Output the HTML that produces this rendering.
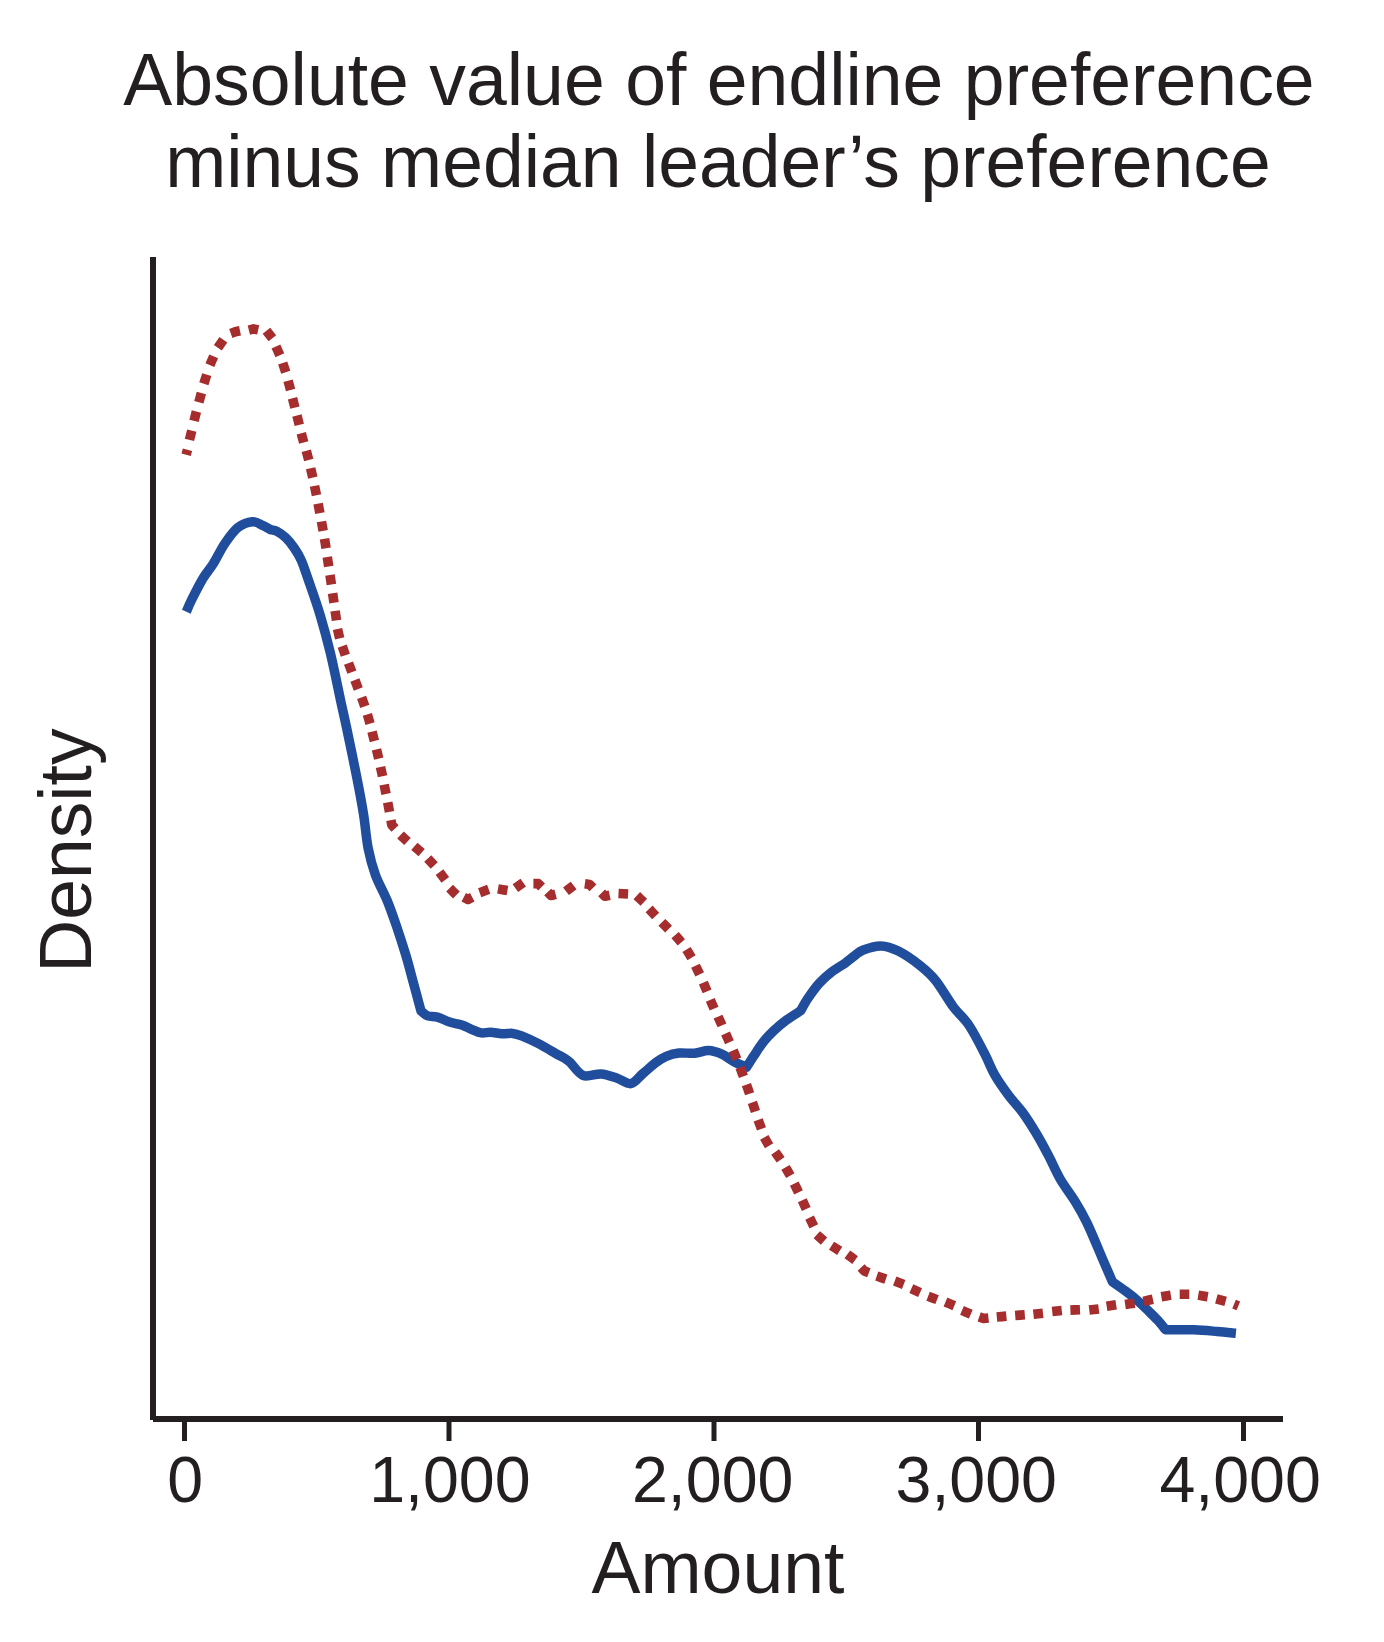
<!DOCTYPE html>
<html><head><meta charset="utf-8">
<style>
html,body{margin:0;padding:0;background:#fff;}
svg{display:block;}
text{font-family:"Liberation Sans",sans-serif;fill:#231f20;}
</style></head>
<body>
<svg width="1384" height="1642" viewBox="0 0 1384 1642">
<rect width="1384" height="1642" fill="#fff"/>
<text x="719" y="105" font-size="73.4" text-anchor="middle">Absolute value of endline preference</text>
<text x="718" y="187" font-size="73.3" text-anchor="middle">minus median leader’s preference</text>
<text x="91.3" y="850.6" font-size="73.3" text-anchor="middle" transform="rotate(-90 91.3 850.6)">Density</text>
<text x="718" y="1593" font-size="73.4" text-anchor="middle">Amount</text>
<g font-size="64.5" text-anchor="middle">
<text x="185.3" y="1502">0</text>
<text x="449.9" y="1502">1,000</text>
<text x="712.7" y="1502">2,000</text>
<text x="976.3" y="1502">3,000</text>
<text x="1240.1" y="1502">4,000</text>
</g>
<g fill="#231f20">
<rect x="150" y="257" width="6" height="1163"/>
<rect x="153" y="1416" width="1130" height="6"/>
<rect x="182" y="1420" width="5" height="21"/>
<rect x="446.5" y="1420" width="5" height="21"/>
<rect x="711.5" y="1420" width="5" height="21"/>
<rect x="976" y="1420" width="5" height="21"/>
<rect x="1241" y="1420" width="5" height="21"/>
</g>
<path d="M186.3 611.8 C187.2 609.8 188.9 605.3 191.7 599.7 C194.5 594.1 199.6 584.0 203.2 578.0 C206.8 572.0 209.8 569.4 213.4 563.6 C217.0 557.8 220.8 549.4 224.9 543.4 C229.0 537.4 233.3 531.1 237.9 527.5 C242.5 523.9 248.3 522.1 252.4 521.7 C256.5 521.3 259.6 524.0 262.6 525.3 C265.7 526.6 269.4 529.0 270.7 529.7 C271.8 530.0 274.5 530.1 277.0 531.4 C279.5 532.7 282.8 534.9 285.7 537.7 C288.6 540.5 291.8 544.4 294.4 548.2 C297.0 552.0 298.9 554.8 301.3 560.3 C303.7 565.8 305.5 571.7 308.7 580.9 C311.9 590.1 316.7 603.5 320.3 615.6 C323.9 627.7 327.0 639.1 330.4 653.2 C333.8 667.3 337.8 687.4 340.5 700.0 C343.2 712.6 344.1 715.8 346.8 728.7 C349.5 741.6 354.0 763.2 356.8 777.4 C359.6 791.6 361.6 802.2 363.5 814.0 C365.4 825.8 366.1 837.9 368.1 848.0 C370.1 858.1 372.1 865.7 375.3 874.6 C378.5 883.5 383.9 892.5 387.5 901.4 C391.1 910.3 394.1 919.3 397.2 928.2 C400.2 937.1 403.1 946.1 405.8 955.0 C408.5 963.9 410.6 972.5 413.1 981.8 C415.6 991.1 419.7 1006.1 421.0 1011.0 C422.1 1011.8 425.0 1014.9 427.7 1015.9 C430.4 1016.9 433.8 1016.1 437.4 1017.1 C441.0 1018.1 445.5 1020.7 449.6 1022.0 C453.7 1023.3 458.2 1023.8 461.8 1025.0 C465.4 1026.2 468.3 1028.0 471.5 1029.3 C474.7 1030.6 478.1 1032.4 481.2 1032.9 C484.3 1033.4 486.9 1032.2 490.4 1032.3 C493.9 1032.4 498.4 1033.6 502.1 1033.8 C505.8 1034.0 509.2 1033.1 512.5 1033.4 C515.8 1033.7 517.3 1034.1 521.6 1035.8 C525.9 1037.5 532.9 1040.7 538.5 1043.6 C544.1 1046.5 551.1 1050.8 555.4 1053.3 C559.7 1055.8 562.0 1056.8 564.5 1058.3 C567.0 1059.8 567.0 1059.5 570.1 1062.4 C573.2 1065.3 578.1 1073.6 583.3 1075.5 C588.4 1077.4 595.5 1073.5 601.0 1073.9 C606.5 1074.3 611.6 1076.4 616.6 1078.0 C621.6 1079.6 626.5 1084.3 630.9 1083.6 C635.3 1082.8 638.8 1077.0 643.0 1073.5 C647.2 1070.0 652.2 1065.3 656.1 1062.4 C660.0 1059.5 662.4 1057.9 666.2 1056.3 C670.0 1054.7 674.3 1053.5 679.0 1053.0 C683.7 1052.5 689.6 1053.7 694.6 1053.3 C699.6 1052.9 704.2 1050.4 708.7 1050.6 C713.2 1050.8 717.4 1052.3 721.7 1054.2 C726.0 1056.1 730.6 1059.8 734.7 1062.0 C738.9 1064.2 744.6 1066.3 746.6 1067.2 C747.8 1065.3 751.0 1060.1 753.8 1055.9 C756.6 1051.7 760.0 1046.2 763.3 1042.0 C766.6 1037.8 769.8 1034.5 773.7 1030.8 C777.6 1027.1 782.2 1023.2 786.7 1019.9 C791.2 1016.6 798.3 1012.3 800.6 1010.8 C801.9 1008.6 805.1 1002.4 808.3 997.8 C811.4 993.2 815.7 987.2 819.5 983.0 C823.3 978.8 826.9 975.7 831.0 972.5 C835.1 969.3 842.1 965.2 844.3 963.8 C846.0 962.4 851.5 957.9 854.7 955.6 C857.9 953.3 858.9 951.6 863.3 950.0 C867.7 948.4 875.1 945.8 880.9 946.0 C886.7 946.2 891.8 947.9 898.3 951.1 C904.8 954.4 913.8 960.6 920.0 965.5 C926.2 970.4 930.3 973.8 935.8 980.7 C941.3 987.6 947.7 999.2 953.2 1006.7 C958.8 1014.2 963.8 1017.5 969.1 1025.5 C974.4 1033.5 980.8 1046.2 985.0 1054.4 C989.2 1062.6 990.7 1067.8 994.6 1074.6 C998.5 1081.4 1003.9 1089.0 1008.6 1095.3 C1013.3 1101.6 1018.0 1106.1 1022.6 1112.4 C1027.2 1118.7 1031.7 1125.9 1036.0 1133.0 C1040.3 1140.1 1044.1 1147.3 1048.2 1155.0 C1052.3 1162.7 1055.9 1171.6 1060.4 1179.3 C1064.9 1187.0 1070.5 1193.9 1075.0 1201.2 C1079.5 1208.5 1082.4 1213.3 1087.1 1223.1 C1091.8 1232.9 1098.8 1250.2 1103.0 1260.0 C1107.2 1269.8 1110.9 1278.2 1112.5 1281.8 C1114.8 1283.4 1121.7 1288.2 1126.0 1291.4 C1130.3 1294.6 1134.4 1297.8 1138.2 1301.2 C1142.0 1304.6 1145.8 1308.4 1149.1 1311.6 C1152.4 1314.8 1155.0 1317.3 1157.8 1320.3 C1160.5 1323.3 1164.3 1328.2 1165.6 1329.8 C1170.3 1329.8 1185.4 1329.5 1194.0 1329.8 C1202.6 1330.1 1210.2 1330.9 1217.2 1331.5 C1224.2 1332.1 1232.8 1333.0 1235.9 1333.3" fill="none" stroke="#214e9c" stroke-width="9.5" stroke-linejoin="round"/>
<path d="M186.15 454.72 L187.45 449.68 M189.44 439.96 L190.60 435.30 L191.76 430.64 M194.02 420.85 L195.20 416.20 L196.38 411.55 M198.84 402.33 L200.10 397.70 L201.36 393.07 M203.85 383.78 L205.30 379.20 L206.75 374.62 M209.90 365.11 L211.80 360.70 L213.70 356.29 M217.85 347.63 L220.60 343.70 L223.35 339.77 M230.79 333.44 L235.30 331.80 L240.00 330.80 M248.84 330.06 L253.50 328.90 L258.20 329.90 M266.44 330.72 L269.40 334.50 L272.36 338.28 M275.95 346.52 L277.90 350.90 L279.85 355.28 M282.69 363.04 L284.20 367.60 L285.71 372.16 M288.05 380.66 L289.30 385.30 L290.55 389.94 M292.53 398.25 L293.70 402.90 L294.87 407.55 M296.93 415.54 L298.10 420.20 L299.27 424.86 M301.26 433.26 L302.50 437.90 L303.74 442.54 M306.28 450.76 L307.50 455.40 L308.72 460.04 M310.64 468.22 L311.70 472.90 L312.76 477.58 M314.53 485.90 L315.50 490.60 L316.47 495.30 M318.10 503.69 L319.00 508.40 L319.90 513.11 M321.45 521.48 L322.30 526.20 L323.15 530.92 M324.54 538.66 L325.30 543.40 L326.06 548.14 M327.30 557.05 L328.00 561.80 L328.70 566.55 M330.00 575.05 L330.70 579.80 L331.40 584.55 M332.62 593.25 L333.30 598.00 L333.98 602.75 M335.10 610.85 L335.80 615.60 L336.50 620.35 M337.53 629.02 L338.60 633.70 L339.67 638.38 M342.25 646.16 L343.80 650.70 L345.35 655.24 M348.50 663.11 L350.20 667.60 L351.90 672.09 M354.90 680.01 L356.60 684.50 L358.30 688.99 M361.61 697.37 L363.20 701.90 L364.79 706.43 M367.36 714.39 L368.70 719.00 L370.04 723.61 M372.02 731.65 L373.20 736.30 L374.38 740.95 M376.50 749.33 L377.60 754.00 L378.70 758.67 M380.50 766.90 L381.50 771.60 L382.50 776.30 M384.16 784.59 L385.10 789.30 L386.04 794.01 M387.71 802.48 L388.60 807.20 L389.49 811.92 M390.95 820.18 L391.80 824.90 L395.03 828.45 M400.50 835.02 L404.00 838.30 L407.50 841.58 M414.39 846.33 L418.00 849.50 L421.61 852.67 M427.75 858.47 L431.00 862.00 L434.25 865.53 M439.53 872.15 L442.40 876.00 L445.27 879.85 M449.61 888.21 L453.00 891.60 L456.39 894.99 M463.74 897.19 L468.00 899.40 L472.26 897.19 M479.69 892.64 L484.20 891.00 L488.71 889.36 M497.97 888.87 L502.70 889.70 L507.43 890.53 M515.37 888.15 L519.30 885.40 L523.23 882.65 M533.40 883.60 L538.20 883.60 L541.59 886.99 M547.73 891.99 L551.00 895.50 L555.64 894.26 M565.97 891.29 L569.80 888.40 L573.63 885.51 M584.85 883.83 L589.60 884.50 L592.99 887.89 M601.61 892.91 L605.00 896.30 L609.70 895.30 M618.51 893.45 L623.30 893.70 L628.09 893.95 M636.79 895.63 L640.30 898.90 L643.81 902.17 M649.13 908.88 L652.40 912.40 L655.67 915.92 M661.84 922.27 L665.20 925.70 L668.56 929.13 M675.08 935.05 L678.20 938.70 L681.32 942.35 M686.48 949.52 L689.00 953.60 L691.52 957.68 M695.51 965.78 L697.60 970.10 L699.69 974.42 M703.32 982.59 L705.20 987.00 L707.08 991.41 M710.28 999.90 L712.20 1004.30 L714.12 1008.70 M718.01 1016.63 L720.00 1021.00 L721.99 1025.37 M725.55 1033.51 L727.50 1037.90 L729.45 1042.29 M733.15 1050.37 L735.00 1054.80 L736.85 1059.23 M740.00 1067.41 L741.70 1071.90 L743.40 1076.39 M746.42 1084.67 L748.00 1089.20 L749.58 1093.73 M752.37 1102.35 L753.90 1106.90 L755.43 1111.45 M758.14 1119.90 L759.80 1124.40 L761.46 1128.90 M764.30 1137.44 L766.70 1141.60 L769.10 1145.76 M775.12 1151.99 L777.90 1155.90 L780.68 1159.81 M785.50 1167.34 L787.90 1171.50 L790.30 1175.66 M794.27 1183.70 L796.40 1188.00 L798.53 1192.30 M802.33 1200.32 L804.30 1204.70 L806.27 1209.08 M809.60 1217.68 L811.70 1222.00 L813.80 1226.32 M816.78 1234.75 L820.40 1237.90 L824.02 1241.05 M831.53 1245.75 L835.60 1248.30 L839.67 1250.85 M847.32 1254.38 L851.20 1257.20 L855.08 1260.02 M861.08 1267.53 L864.40 1271.00 L868.87 1272.75 M876.76 1276.06 L881.30 1277.60 L885.84 1279.14 M894.72 1281.09 L899.20 1282.80 L903.68 1284.51 M911.33 1288.72 L915.70 1290.70 L920.07 1292.68 M928.12 1296.17 L932.60 1297.90 L937.08 1299.63 M945.48 1302.02 L949.90 1303.90 L954.32 1305.78 M961.99 1310.40 L966.40 1312.30 L970.81 1314.20 M979.18 1316.88 L983.70 1318.50 L988.47 1317.99 M996.82 1317.05 L1001.60 1316.60 L1006.38 1316.15 M1015.21 1315.47 L1020.00 1315.10 L1024.79 1314.73 M1033.43 1314.32 L1038.20 1313.80 L1042.97 1313.28 M1052.23 1311.50 L1057.00 1311.00 L1061.77 1310.50 M1070.40 1310.10 L1075.20 1309.90 L1080.00 1309.70 M1089.24 1310.09 L1094.00 1309.50 L1098.76 1308.91 M1106.66 1306.26 L1111.40 1305.50 L1116.14 1304.74 M1125.15 1304.47 L1129.90 1303.80 L1134.65 1303.13 M1143.51 1301.32 L1148.20 1300.30 L1152.89 1299.28 M1161.36 1296.68 L1166.10 1295.90 L1170.84 1295.12 M1179.70 1294.30 L1184.50 1294.30 L1189.30 1294.30 M1198.26 1295.13 L1203.00 1295.90 L1207.74 1296.67 M1216.37 1298.92 L1221.00 1300.20 L1225.63 1301.48 M1234.07 1304.14 L1238.33 1305.86" fill="none" stroke="#a52d2d" stroke-width="9.6" stroke-linecap="butt" stroke-linejoin="round"/>
</svg>
</body></html>
